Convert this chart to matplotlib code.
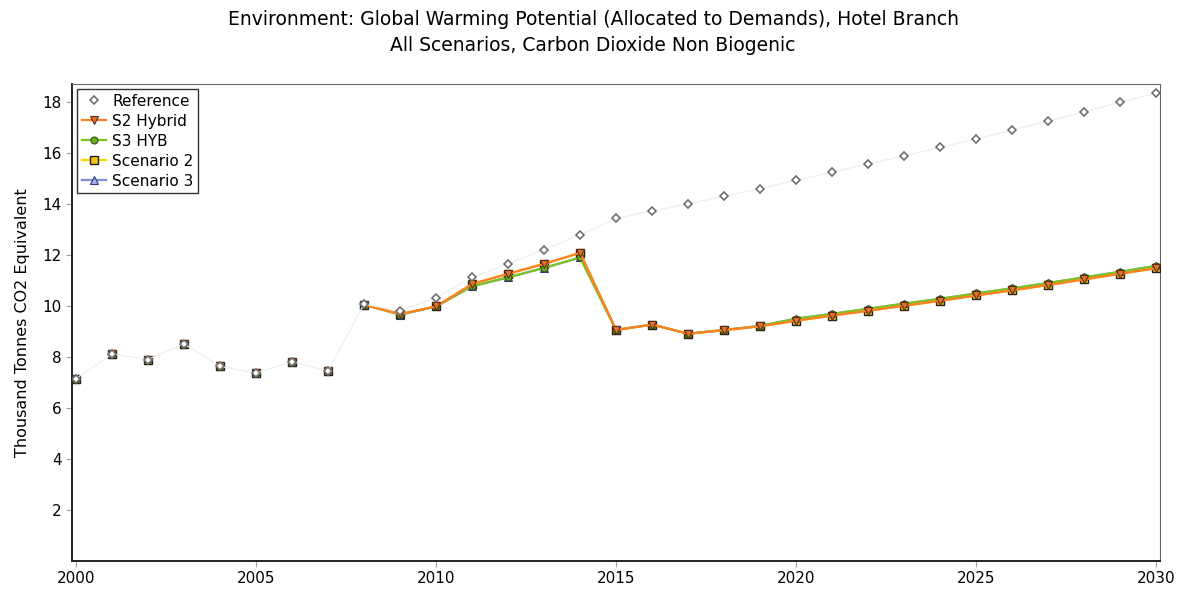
import numpy as np
import matplotlib
matplotlib.use('Agg')
import matplotlib.pyplot as plt

years = np.arange(2000, 2031)

# historical part shared by all series (2000-2008)
hist = [7.15, 8.12, 7.90, 8.52, 7.63, 7.37, 7.82, 7.45, 10.05]

reference = hist[:8] + [10.07, 9.82, 10.32, 11.12, 11.65, 12.21, 12.79,
                        13.43, 13.73, 14.00, 14.30, 14.60, 14.93, 15.24, 15.57,
                        15.88, 16.22, 16.55, 16.89, 17.25, 17.62, 17.98, 18.34]
s2_hybrid = hist + [9.68, 9.98, 10.86, 11.26, 11.65, 12.08,
                    9.06, 9.27, 8.91, 9.05, 9.20, 9.42, 9.62, 9.81, 10.01,
                    10.20, 10.41, 10.61, 10.82, 11.04, 11.26, 11.48]
s3_hyb = hist + [9.66, 9.98, 10.77, 11.12, 11.49, 11.90,
                 9.06, 9.27, 8.91, 9.06, 9.22, 9.50, 9.69, 9.89, 10.09,
                 10.28, 10.49, 10.69, 10.90, 11.12, 11.34, 11.57]
scenario_2 = s2_hybrid
scenario_3 = s3_hyb

series = [
    ('Reference', reference, '#efefef', dict(marker='D', ms=4.5, mfc='white', mec='#707070', mew=1.2)),
    ('S2 Hybrid', s2_hybrid, '#ff7f27', dict(marker='v', ms=6, mfc='#e8702a', mec='#5a3010', mew=0.8)),
    ('S3 HYB', s3_hyb, '#7cc41e', dict(marker='o', ms=5, mfc='#6ab023', mec='#3a4a10', mew=0.8)),
    ('Scenario 2', scenario_2, '#ffd700', dict(marker='s', ms=6, mfc='#f2c40c', mec='#202020', mew=1.0)),
    ('Scenario 3', scenario_3, '#7f8fe0', dict(marker='^', ms=6, mfc='#a8b0ee', mec='#303a80', mew=0.8)),
]

fig, ax = plt.subplots(figsize=(11.86, 5.95), dpi=100)
fig.subplots_adjust(left=0.061, right=0.978, top=0.858, bottom=0.057)

handles = []
n = len(series)
for i, (name, vals, col, mk) in enumerate(series):
    z = 10 + (n - i)
    if name == 'Reference':
        start, lw = 0, 0.9
    else:
        start, lw = 8, 1.6
    ax.plot(years[start:], vals[start:], '-', color=col, lw=lw, zorder=z)
    ax.plot(years, vals, ls='none', zorder=z + 0.5, **mk)
    if name == 'Reference':
        h, = ax.plot([], [], ls='none', **mk)
    else:
        h, = ax.plot([], [], '-', color=col, lw=1.6, **mk)
    handles.append(h)

ax.set_xlim(1999.9, 2030.1)
ax.set_ylim(0, 18.68)
ax.set_xticks(range(2000, 2031, 5))
ax.set_yticks(range(2, 19, 2))
ax.tick_params(axis='both', labelsize=11, length=4, color='#a0a0a0')
ax.tick_params(axis='x', pad=3)
for s in ['top', 'right']:
    ax.spines[s].set_color('#666666')
ax.spines['left'].set_color('#222222')
ax.spines['bottom'].set_color('#222222')
ax.spines['left'].set_linewidth(1.4)
ax.spines['bottom'].set_linewidth(1.4)

ax.set_ylabel('Thousand Tonnes CO2 Equivalent', fontsize=11.5, labelpad=9)
fig.suptitle('Environment: Global Warming Potential (Allocated to Demands), Hotel Branch\n'
             'All Scenarios, Carbon Dioxide Non Biogenic', fontsize=13.5, y=0.984, linespacing=1.5)

leg = ax.legend(handles, [s[0] for s in series], loc='upper left', fontsize=11,
                frameon=True, fancybox=False, borderpad=0.3, labelspacing=0.33,
                handlelength=1.6, handletextpad=0.4, borderaxespad=0.3)
leg.get_frame().set_edgecolor('black')
leg.get_frame().set_linewidth(1.0)

plt.savefig('out.png', dpi=100)
